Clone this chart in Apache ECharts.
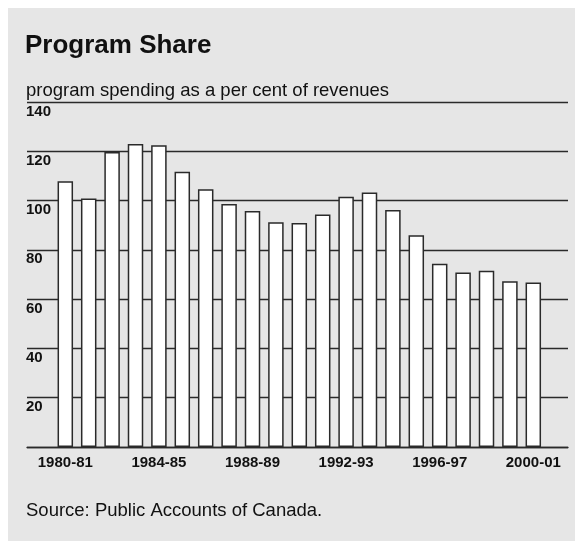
<!DOCTYPE html>
<html>
<head>
<meta charset="utf-8">
<script src="https://cdn.jsdelivr.net/npm/echarts@6/dist/echarts.min.js"></script>
<style>
html,body{margin:0;padding:0;background:#fff;}
#chart{width:575px;height:541px;}
</style>
</head>
<body>
<div id="chart"></div>
<script>
const categories = ['1980-81','1981-82','1982-83','1983-84','1984-85','1985-86','1986-87','1987-88','1988-89','1989-90','1990-91','1991-92','1992-93','1993-94','1994-95','1995-96','1996-97','1997-98','1998-99','1999-00','2000-01'];
const programShare = [107.8, 100.8, 119.7, 123.0, 122.4, 111.7, 104.6, 98.6, 95.8, 91.2, 90.9, 94.3, 101.6, 103.3, 96.2, 85.9, 74.4, 70.8, 71.5, 67.3, 66.8];
const yTicks = {min: 0, max: 140, interval: 20};
const titleText = 'Program Share';
const subtitleText = 'program spending as a per cent of revenues';
const sourceText = 'Source: Public Accounts of Canada.';

const FONT = '"Liberation Sans", Arial, Helvetica, sans-serif';
const INK = '#111';
const LINE = '#2a2a2a';

const chart = echarts.init(document.getElementById('chart'), null, {renderer: 'canvas'});
chart.setOption({
  animation: false,
  backgroundColor: '#ffffff',
  graphic: [{
    type: 'rect', left: 8, top: 8, z: -100, silent: true,
    shape: {width: 567, height: 533},
    style: {fill: '#e6e6e6'}
  }],
  title: [
    {text: titleText, left: 25, top: 33, padding: 0,
     textStyle: {fontFamily: FONT, fontSize: 26, fontWeight: 'bold', color: INK}},
    {text: subtitleText, left: 26, top: 81, padding: 0,
     textStyle: {fontFamily: FONT, fontSize: 18.5, fontWeight: 'normal', color: INK}},
    {text: sourceText, left: 26, top: 501, padding: 0,
     textStyle: {fontFamily: FONT, fontSize: 18.5, fontWeight: 'normal', color: INK}}
  ],
  grid: [
    {left: 27, right: 7, top: 102, bottom: 94, containLabel: false},
    {left: 53.6, right: 30, top: 102, bottom: 94, containLabel: false}
  ],
  xAxis: [
    {gridIndex: 0, type: 'value', min: 0, max: 1, offset: 26,
     axisLine: {show: true, lineStyle: {color: LINE, width: 1.3}},
     axisTick: {show: false}, axisLabel: {show: false}, splitLine: {show: false}},
    {gridIndex: 1, type: 'category', data: categories,
     axisLine: {show: false}, axisTick: {show: false}, splitLine: {show: false},
     axisLabel: {interval: 3, margin: 8, fontFamily: FONT, fontSize: 15, fontWeight: 'bold', color: INK}}
  ],
  yAxis: [
    {gridIndex: 0, type: 'value', min: yTicks.min, max: yTicks.max, interval: yTicks.interval,
     axisLine: {show: false}, axisTick: {show: false},
     splitLine: {show: true, lineStyle: {color: LINE, width: 1.3}},
     axisLabel: {inside: true, margin: -1, align: 'left', verticalAlign: 'top',
       lineHeight: 15, padding: [2, 0, 0, 0],
       fontFamily: FONT, fontSize: 15, fontWeight: 'bold', color: INK,
       formatter: v => (v === 0 ? '' : String(v))}},
    {gridIndex: 1, type: 'value', min: yTicks.min, max: yTicks.max, interval: yTicks.interval, show: false}
  ],
  series: [{
    type: 'bar', xAxisIndex: 1, yAxisIndex: 1,
    data: programShare, barWidth: 15.5,
    itemStyle: {color: '#ffffff', borderColor: LINE, borderWidth: 1.5},
    z: 5
  }]
});
</script>
</body>
</html>
